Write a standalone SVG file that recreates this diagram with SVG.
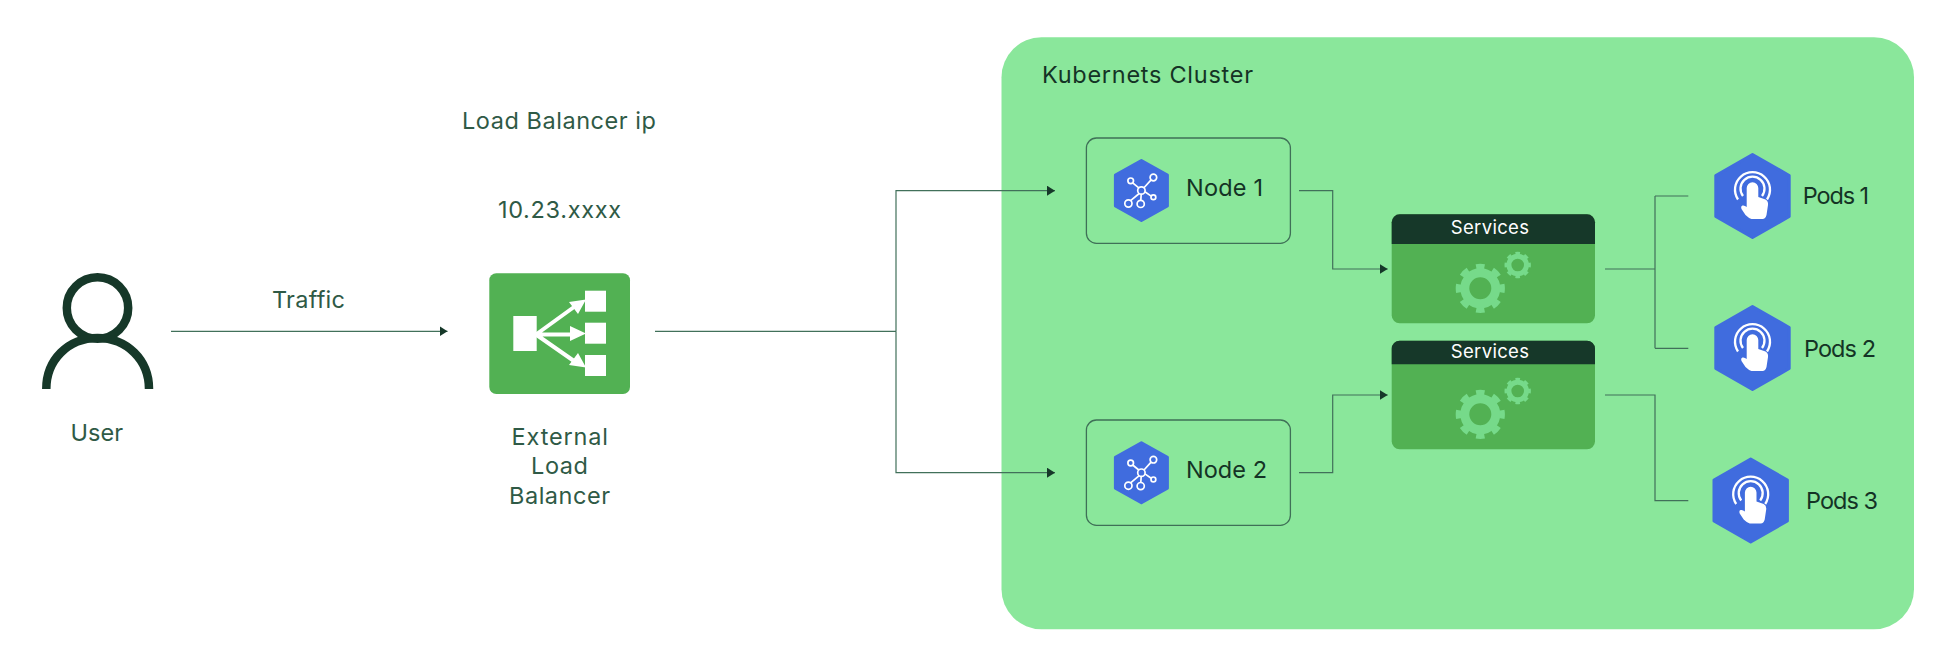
<svg xmlns="http://www.w3.org/2000/svg" width="1942" height="653" viewBox="0 0 1942 653">
<style>
text{font-family:"Inter","Liberation Sans",sans-serif;font-size:23.5px;font-weight:400}
.o{fill:#2f5a46}
.d{fill:#143325}
.w{fill:#fff;font-size:18.5px}
.c{fill:none;stroke:#41705a;stroke-width:1.2}
.nb{fill:none;stroke:#3f7057;stroke-width:1.3}
.hex{fill:#406cde;stroke:#406cde;stroke-width:3;stroke-linejoin:round}
.sb{fill:#52b153}
.sh{fill:#163829}
.g{fill:none;stroke:#76da8a}
</style>
<defs>
<marker id="a" viewBox="0 0 8 10" refX="8" refY="5" markerUnits="userSpaceOnUse" markerWidth="8" markerHeight="10" orient="auto"><path d="M0 0L8 5L0 10Z" fill="#163829"/></marker>
<g id="nodeIcon">
<polygon class="hex" points="0,-30 26,-15.5 26,15.5 0,30 -26,15.5 -26,-15.5"/>
<g fill="none" stroke="#fff" stroke-width="1.7">
<circle cx="0" cy="0" r="3.7"/><circle cx="12" cy="-13" r="3.3"/><circle cx="-10.7" cy="-9.7" r="2.8"/><circle cx="-13" cy="13" r="3.6"/><circle cx="-.7" cy="13.4" r="3.6"/><circle cx="12" cy="6.7" r="2.4"/>
<path d="M2.6-2.7L9.7-10.6M-2.6-2.7L-8.7-7.7M-2.2 3L-10.8 10.2M-.2 3.7L-.6 9.8M3.5 1.2L9.8 5.6"/>
</g>
</g>
<g id="podIcon">
<polygon class="hex" points="0,-41.5 36.7,-20.5 36.7,20.5 0,41.5 -36.7,20.5 -36.7,-20.5"/>
<g fill="none" stroke="#fff" stroke-width="2.3"><path d="M-14.5 3.5A17.5 17.5 0 1 1 14.5 3.5"/><path d="M-9.5 0A12 12 0 1 1 9.5 0"/></g>
<path fill="#fff" d="M-5.8-8A5.8 5.8 0 0 1 5.8-8L5.8 1L13 3.5Q16 5 15.5 9L14 19Q13 23 10 23L-1 23Q-4 22-7 19L-11 13Q-12 10-10 9.5Q-8 9-5.8 11Z"/>
</g>
<g id="gears">
<g transform="translate(-31.5 -8.7)"><circle class="g" r="15.5" stroke-width="9"/><circle class="g" r="21.8" stroke-width="5.6" pathLength="8" stroke-dasharray=".5 .5" stroke-dashoffset=".25"/></g>
<g transform="translate(5.9 -32)"><circle class="g" r="8.8" stroke-width="5"/><circle class="g" r="11.8" stroke-width="2.8" pathLength="8" stroke-dasharray=".5 .5" stroke-dashoffset=".25"/></g>
</g>
</defs>
<rect id="cluster" x="1001.5" y="37.3" width="912.5" height="592" rx="40" fill="#8ae79b"/>
<text x="1042" y="83.3" class="d" textLength="211">Kubernets Cluster</text>
<g id="connectors">
<path class="c" d="M171 331.3H447.5" marker-end="url(#a)"/>
<path class="c" d="M655 331.3H896"/>
<path class="c" d="M896 331.3V190.7H1055" marker-end="url(#a)"/>
<path class="c" d="M896 331.3V472.7H1055" marker-end="url(#a)"/>
<path class="c" d="M1299 190.7H1332.7V269H1387.7" marker-end="url(#a)"/>
<path class="c" d="M1299 472.7H1332.7V395H1387.7" marker-end="url(#a)"/>
<path class="c" d="M1605 269H1655M1655 196V348.3M1655 196H1688.3M1655 348.3H1688.3"/>
<path class="c" d="M1605 395H1655V500.7H1688.3"/>
</g>
<g id="user">
<g fill="none" stroke="#163829" stroke-width="8.5"><circle cx="97.5" cy="308" r="30.7"/><path d="M46.3 389C46.3 360 68 338 97.5 338C127 338 149 360 149 389"/></g>
<text x="70.5" y="440.7" class="o" textLength="52.5">User</text>
</g>
<g id="lb-ip"><text x="462" y="129" class="o" textLength="194">Load Balancer ip</text><text x="498" y="218" class="o" textLength="123">10.23.xxxx</text></g>
<g id="traffic-label"><text x="272" y="307.7" class="o" textLength="73">Traffic</text></g>
<g id="load-balancer">
<rect x="489.3" y="273.3" width="140.7" height="120.7" rx="7" fill="#52b153"/>
<g fill="#fff"><rect x="513.3" y="316" width="23.4" height="35"/><rect x="585" y="290.7" width="21" height="21"/><rect x="585" y="322.7" width="21" height="21"/><rect x="585" y="355" width="21" height="21"/>
<path stroke="#fff" stroke-width="4" d="M536 334.5L574 307M536 334.5H574M536 334.5L574 361"/>
<path d="M586 299.5L569 302L578 314Z M586 333.5L570 326V341Z M586 367.5L578 353L569 365Z"/></g>
<text x="511.6" y="445" class="o" textLength="96.4">External</text><text x="531" y="474" class="o" textLength="57">Load</text><text x="509" y="504" class="o" textLength="101">Balancer</text>
</g>
<g id="node-1"><rect class="nb" x="1086.4" y="138" width="204" height="105.3" rx="10"/><use href="#nodeIcon" x="1141.4" y="190.5"/><text x="1186" y="195.7" class="d" textLength="77">Node 1</text></g>
<g id="node-2"><rect class="nb" x="1086.4" y="420" width="204" height="105.3" rx="10"/><use href="#nodeIcon" x="1141.4" y="472.7"/><text x="1186" y="477.7" class="d" textLength="81">Node 2</text></g>
<g id="services-1"><rect class="sb" x="1391.7" y="214.3" width="203.3" height="109" rx="8"/><path class="sh" d="M1391.7 244V222.3a8 8 0 0 1 8-8H1587a8 8 0 0 1 8 8V244Z"/><use href="#gears" x="1511.8" y="297"/><text x="1450.7" y="234.3" class="w" textLength="78.3">Services</text></g>
<g id="services-2"><rect class="sb" x="1391.7" y="340.7" width="203.3" height="108.6" rx="8"/><path class="sh" d="M1391.7 364.3V348.7a8 8 0 0 1 8-8H1587a8 8 0 0 1 8 8V364.3Z"/><use href="#gears" x="1511.8" y="423"/><text x="1450.7" y="358.3" class="w" textLength="78.3">Services</text></g>
<g id="pods-1"><use href="#podIcon" x="1752.5" y="196"/><text x="1802.7" y="204" class="d" textLength="66.3">Pods 1</text></g>
<g id="pods-2"><use href="#podIcon" x="1752.5" y="348"/><text x="1804" y="356.7" class="d" textLength="72">Pods 2</text></g>
<g id="pods-3"><use href="#podIcon" x="1750.7" y="500.5"/><text x="1806" y="508.7" class="d" textLength="72">Pods 3</text></g>
</svg>
